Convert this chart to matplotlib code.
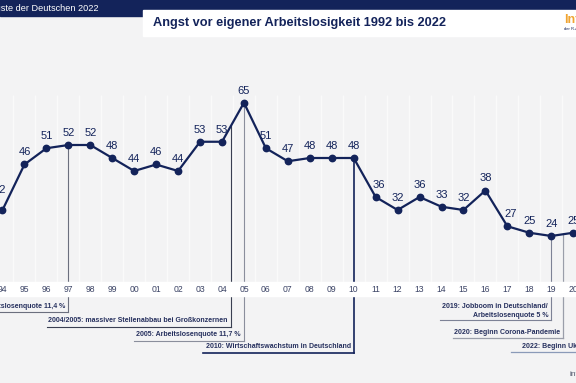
#!/usr/bin/env python3
"""
Angst vor eigener Arbeitslosigkeit 1992 bis 2022 (cropped view, 1994-2020).
"""

import numpy as np
import matplotlib
matplotlib.use("Agg")
import matplotlib.pyplot as plt
from matplotlib.patches import Rectangle

plt.rcParams["font.family"] = ["Liberation Sans", "DejaVu Sans"]

# --- data (share in %) ---
years = [1994, 1995, 1996, 1997, 1998, 1999, 2000, 2001, 2002, 2003, 2004,
         2005, 2006, 2007, 2008, 2009, 2010, 2011, 2012, 2013, 2014, 2015,
         2016, 2017, 2018, 2019, 2020]
values = [32, 46, 51, 52, 52, 48, 44, 46, 44, 53, 53,
          65, 51, 47, 48, 48, 48, 36, 32, 36, 33, 32,
          38, 27, 25, 24, 25]
tick_labels = [f"{y % 100:02d}" for y in years]

events = [
    (1997, "1997: Arbeitslosenquote 11,4 %"),
    (2004.4, "2004/2005: massiver Stellenabbau bei Großkonzernen"),
    (2005, "2005: Arbeitslosenquote 11,7 %"),
    (2010, "2010: Wirtschaftswachstum in Deutschland"),
    (2019, "2019: Jobboom in Deutschland/\nArbeitslosenquote 5 %"),
    (2019.55, "2020: Beginn Corona-Pandemie"),
    (2022, "2022: Beginn Ukraine-Krieg"),
]

NAVY = "#13235a"
BG = "#f3f3f4"
W, H = 576, 383

# pixel <-> data mapping of the cropped view
X0, DX = 2.5, 21.95
Y44, DY = 171.0, 3.25


def yval(py):
    return 44 - (py - Y44) / DY


def xval(px):
    return years[0] + (px - X0) / DX


fig = plt.figure(figsize=(W / 100, H / 100), dpi=100, facecolor=BG)
ax = fig.add_axes([0, 0, 1, 1])
ax.set_facecolor(BG)
ax.set_xlim(xval(0), xval(W))
ax.set_ylim(yval(H), yval(0))
ax.axis("off")

# faint column separators
for y in years:
    ax.vlines(y + 0.5, yval(282), yval(95), color="white", lw=1.0, alpha=0.6, zorder=0)

# event annotations (vertical drop line + right aligned text + underline)
ann_style = [
    # text y, underline y, underline left (px), colour, lw
    (306, 312, -80, "#6b6f7e", 0.8),
    (320, 327, 47, "#3a3f52", 0.8),
    (334, 341, 134, "#8a8e9c", 0.8),
    (347, 353, 203, NAVY, 1.2),
    (311, 320, 440, "#7d8296", 0.8),
    (333, 338, 453, "#9a9eaa", 0.9),
    (347, 352, 511, "#8a9ab8", 0.9),
]
for (ex, label), (ty, uy, ul, col, lw) in zip(events, ann_style):
    top = np.interp(ex, years, values)
    ax.plot([ex, ex], [top, yval(uy)], color=col, lw=lw, zorder=1)
    ax.plot([xval(ul), ex], [yval(uy), yval(uy)], color=col, lw=lw, zorder=1)
    ax.text(ex - 3 / DX, yval(ty), label, ha="right", va="center",
            fontsize=5.05, fontweight="bold", color="#26305e",
            linespacing=1.3, zorder=4)

# white strip for the year labels
ax.axhspan(yval(296), yval(282), color="white", zorder=2)
for y, lab in zip(years, tick_labels):
    ax.text(y, yval(289), lab, ha="center", va="center", fontsize=6.2,
            color="#3c4466", zorder=4)

# the series
ax.plot(years, values, color=NAVY, lw=1.6, marker="o", ms=4.6,
        mec=NAVY, mfc=NAVY, zorder=3, solid_joinstyle="round")
for y, v in zip(years, values):
    dx, dy = 0, 12
    if y == 1994:
        dx, dy = -3, 20
    elif y in (2011, 2017):
        dx = 3
    ax.text(y + dx / DX, v + dy / DY, str(v), ha="center", va="center",
            fontsize=8, color=NAVY, zorder=4)


# --- header chrome in figure pixels ---
def fbox(x, y, w, h, color):
    fig.patches.append(Rectangle((x / W, 1 - (y + h) / H), w / W, h / H,
                                 transform=fig.transFigure, color=color,
                                 zorder=5))


fbox(0, 0, W, 10, NAVY)
fbox(0, 0, 143, 16, NAVY)
fbox(143, 10, W - 143, 26, "white")

fig.text(99 / W, 1 - 8 / H, "Die Ängste der Deutschen 2022", ha="right",
         va="center", fontsize=6.6, color="white", zorder=6)
fig.text(153 / W, 1 - 23 / H, "Angst vor eigener Arbeitslosigkeit 1992 bis 2022",
         ha="left", va="center", fontsize=9.2, fontweight="bold",
         color=NAVY, zorder=6)
fig.text(564 / W, 1 - 20 / H, "Infocenter", ha="left", va="center",
         fontsize=9, fontweight="bold", color="#f0a431", zorder=6)
fig.text(564 / W, 1 - 29 / H, "der R+V Versicherung", ha="left", va="center",
         fontsize=3, color=NAVY, zorder=6)
fig.text(569 / W, 1 - 375 / H, "infocenter.ruv.de", ha="left", va="center",
         fontsize=6, color="#555b70", zorder=6)

fig.savefig("out.png", dpi=100, facecolor=BG)
